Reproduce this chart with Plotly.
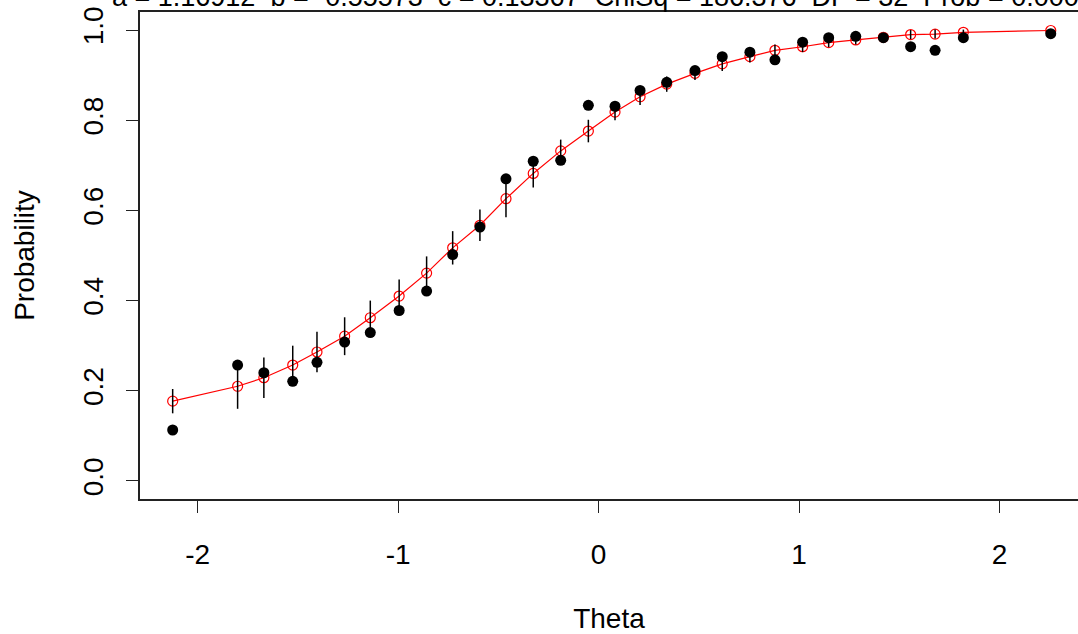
import plotly.graph_objects as go

# Theta group midpoints
theta = [-2.125, -1.801, -1.670, -1.526, -1.405, -1.267, -1.139, -0.995, -0.858, -0.728,
         -0.592, -0.462, -0.326, -0.189, -0.051, 0.082, 0.207, 0.340, 0.481, 0.617,
         0.755, 0.880, 1.018, 1.148, 1.283, 1.421, 1.557, 1.679, 1.820, 2.256]

# Expected (model) probabilities
expected = [0.177, 0.210, 0.229, 0.257, 0.286, 0.321, 0.362, 0.410, 0.461, 0.517,
            0.567, 0.626, 0.682, 0.732, 0.776, 0.818, 0.852, 0.880, 0.904, 0.925,
            0.941, 0.955, 0.963, 0.972, 0.978, 0.984, 0.990, 0.991, 0.995, 0.999]

# Observed proportions
observed = [0.113, 0.257, 0.240, 0.221, 0.263, 0.308, 0.329, 0.378, 0.421, 0.502,
            0.563, 0.670, 0.709, 0.711, 0.833, 0.831, 0.866, 0.884, 0.910, 0.941,
            0.951, 0.934, 0.973, 0.983, 0.986, 0.983, 0.963, 0.955, 0.983, 0.992]

# Half-length of the error bars around the expected values
err = [0.027, 0.050, 0.045, 0.043, 0.045, 0.042, 0.038, 0.037, 0.037, 0.037,
       0.035, 0.041, 0.031, 0.025, 0.025, 0.018, 0.018, 0.017, 0.015, 0.016,
       0.013, 0.013, 0.012, 0.010, 0.010, 0.008, 0.010, 0.010, 0.006, 0.002]

title_text = "a = 1.16912  b = -0.55573  c = 0.13367  ChiSq = 186.376  DF = 32  Prob = 0.000"
x_ticks = [-2, -1, 0, 1, 2]
y_ticks = [0.0, 0.2, 0.4, 0.6, 0.8, 1.0]
y_tick_text = ["0.0", "0.2", "0.4", "0.6", "0.8", "1.0"]

FONT = "Liberation Sans, Arial, sans-serif"

fig = go.Figure()

# Expected curve (red line with open circles)
fig.add_trace(go.Scatter(
    x=theta, y=expected, mode="lines+markers",
    line=dict(color="#ff0000", width=1.2),
    marker=dict(symbol="circle-open", size=10, color="#ff0000", line=dict(width=1.2)),
    showlegend=False, hoverinfo="skip"))

# Error bars around expected
fig.add_trace(go.Scatter(
    x=theta, y=expected, mode="markers",
    marker=dict(size=1, color="rgba(0,0,0,0)"),
    error_y=dict(type="data", array=err, symmetric=True, color="black", thickness=1.5, width=0),
    showlegend=False, hoverinfo="skip"))

# Observed points
fig.add_trace(go.Scatter(
    x=theta, y=observed, mode="markers",
    marker=dict(symbol="circle", size=11, color="black"),
    showlegend=False))

fig.update_layout(
    width=1078, height=634,
    margin=dict(l=140, r=0, t=12, b=135),
    paper_bgcolor="white", plot_bgcolor="white",
    font=dict(family=FONT, size=28, color="black"),
    showlegend=False,
    xaxis=dict(
        range=[-2.288, 2.392], tickvals=x_ticks, ticktext=[str(v) for v in x_ticks],
        showgrid=False, zeroline=False,
        showline=True, mirror=True, linecolor="#222", linewidth=1.5,
        ticks="outside", ticklen=12, tickwidth=1.2, tickcolor="#222",
        ticklabelstandoff=18,
        title=dict(text="Theta", font=dict(size=28), standoff=41),
    ),
    yaxis=dict(
        range=[-0.04, 1.04], tickvals=y_ticks, ticktext=y_tick_text,
        tickangle=-90,
        showgrid=False, zeroline=False,
        showline=True, mirror=False, linecolor="#222", linewidth=1.5,
        ticks="outside", ticklen=12, tickwidth=1.2, tickcolor="#222",
        ticklabelstandoff=12,
        title=dict(text="Probability", font=dict(size=28), standoff=35),
    ),
    annotations=[dict(
        text=title_text, xref="paper", yref="paper",
        x=(110 - 140) / 938, y=1, xanchor="left", yanchor="bottom",
        yshift=-2, showarrow=False, font=dict(size=27, family=FONT, color="black"))],
)

fig.write_html("out.html", config={"displayModeBar": False},
               post_script="document.body.style.margin='0';")
